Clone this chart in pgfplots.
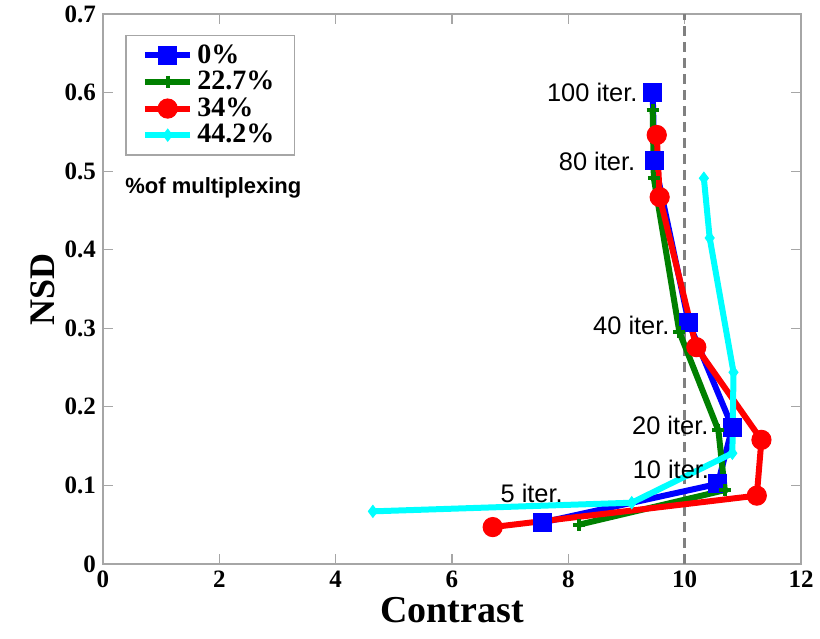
\documentclass[border=0pt]{standalone}
\usepackage{fontspec}
\setmainfont{Liberation Serif}
\newfontfamily\arialf{Liberation Sans}
\usepackage{pgfplots}
\pgfplotsset{compat=1.18}
\definecolor{mblue}{RGB}{0,0,255}
\definecolor{mgreen}{RGB}{0,128,0}
\definecolor{mred}{RGB}{255,0,0}
\definecolor{mcyan}{RGB}{0,255,255}
\begin{document}
\begin{tikzpicture}
\begin{axis}[
  scale only axis,
  width=349pt, height=275pt,
  xmin=0, xmax=12, ymin=0, ymax=0.7,
  xtick={0,2,...,12},
  ytick={0,0.1,...,0.7},
  /pgf/number format/assume math mode=true,
  /pgf/number format/fixed,
  yticklabel style={font=\fontsize{12.5}{14}\selectfont\bfseries, /pgf/number format/precision=1},
  xticklabel style={font=\fontsize{12.5}{14}\selectfont\bfseries},
  axis line style={gray!70, line width=0.8pt},
  tick style={gray!70, line width=0.6pt},
  tick align=inside,
  major tick length=5pt,
  xlabel={Contrast},
  ylabel={NSD},
  xlabel style={font=\fontsize{19}{22}\selectfont\bfseries, yshift=2pt},
  ylabel style={font=\fontsize{18}{21}\selectfont\bfseries, yshift=-2pt},
  legend style={at={(0.032,0.962)}, anchor=north west, draw=gray!70, line width=0.6pt,
    font=\fontsize{14}{16}\selectfont\bfseries, row sep=-1.5pt, inner xsep=8pt, inner ysep=2.5pt},
  legend cell align=left,
  legend image code/.code={
    \draw[#1, mark repeat=2, mark phase=2] plot coordinates {(0cm,0cm) (0.4cm,0cm) (0.8cm,0cm)};
  },
]
\addplot[gray, dash pattern=on 5pt off 3pt, line width=1.6pt, forget plot] coordinates {(10,0) (10,0.7)};
\addplot[mblue, line width=3pt, mark=square*, mark size=4.5pt, mark options={solid, line width=0.5pt}] coordinates {
 (9.45,0.600) (9.48,0.513) (10.07,0.307) (10.82,0.174) (10.57,0.102) (7.56,0.053)};
\addlegendentry{0\%}
\addplot[mgreen, line width=3pt, mark=+, mark size=3pt, mark options={line width=2pt}] coordinates {
 (9.45,0.578) (9.47,0.491) (9.91,0.295) (10.58,0.170) (10.69,0.094) (8.18,0.050)};
\addlegendentry{22.7\%}
\addplot[mred, line width=3pt, mark=*, mark size=4.8pt, mark options={line width=0.5pt}] coordinates {
 (9.52,0.546) (9.57,0.467) (10.20,0.276) (11.32,0.158) (11.24,0.087) (6.70,0.047)};
\addlegendentry{34\%}
\addplot[mcyan, line width=3pt, mark=diamond*, mark size=3pt, mark options={line width=0.5pt}] coordinates {
 (10.33,0.491) (10.43,0.415) (10.84,0.244) (10.82,0.141) (9.09,0.078) (4.64,0.067)};
\addlegendentry{44.2\%}
\begin{scope}[font=\arialf\fontsize{12.7}{15}\selectfont]
\node[anchor=east, inner sep=1pt] at (axis cs:9.23,0.600) {100 iter.};
\node[anchor=east, inner sep=1pt] at (axis cs:9.19,0.513) {80 iter.};
\node[anchor=east, inner sep=1pt] at (axis cs:9.78,0.304) {40 iter.};
\node[anchor=east, inner sep=1pt] at (axis cs:10.45,0.177) {20 iter.};
\node[anchor=east, inner sep=1pt] at (axis cs:10.46,0.120) {10 iter.};
\node[inner sep=1pt] at (axis cs:7.37,0.090) {5 iter.};
\end{scope}
\node[anchor=west, inner sep=0pt, font=\arialf\bfseries\fontsize{11}{13}\selectfont] at (axis description cs:0.0315,0.684) {\%of multiplexing};
\end{axis}
\pgfresetboundingbox
\path[use as bounding box] ([shift={(-51.5pt,-37pt)}]current axis.south west) rectangle ([shift={(9.5pt,7pt)}]current axis.north east);
\end{tikzpicture}
\end{document}
